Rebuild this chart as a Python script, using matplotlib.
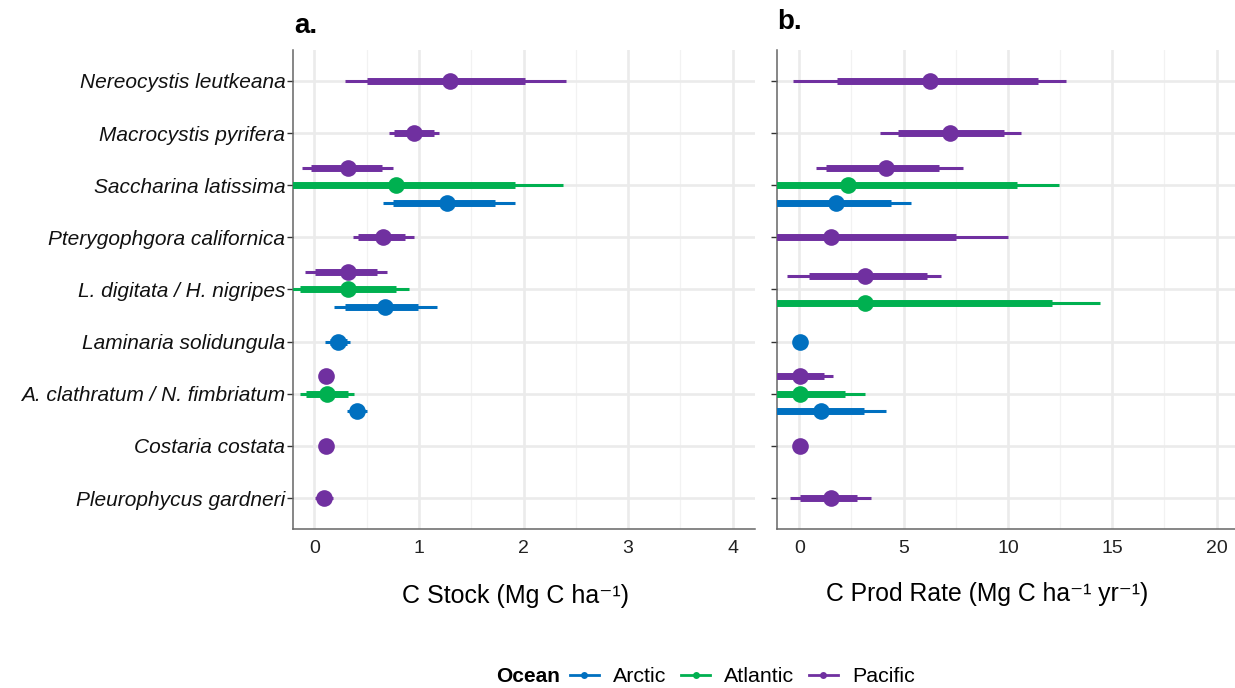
import numpy as np
import matplotlib
matplotlib.use("Agg")
import matplotlib.pyplot as plt
from matplotlib.lines import Line2D

plt.rcParams['font.family'] = ['Liberation Sans', 'DejaVu Sans']

species = ["Nereocystis leutkeana", "Macrocystis pyrifera", "Saccharina latissima",
           "Pterygophgora californica", "L. digitata / H. nigripes", "Laminaria solidungula",
           "A. clathratum / N. fimbriatum", "Costaria costata", "Pleurophycus gardneri"]
oceans = ["Pacific", "Atlantic", "Arctic"]
colors = {"Arctic": "#0070C0", "Atlantic": "#00B050", "Pacific": "#7030A0"}

# panel a: C stock  (species index, ocean, median, 66% low/high, 95% low/high)
stock_sp = [0, 1, 2, 2, 2, 3, 4, 4, 4, 5, 6, 6, 6, 7, 8]
stock_oc = ["Pacific", "Pacific", "Pacific", "Atlantic", "Arctic", "Pacific", "Pacific", "Atlantic",
            "Arctic", "Arctic", "Pacific", "Atlantic", "Arctic", "Pacific", "Pacific"]
stock_med = [1.30, 0.95, 0.32, 0.78, 1.27, 0.66, 0.32, 0.32, 0.67, 0.23, 0.11, 0.12, 0.41, 0.11, 0.09]
stock_lo66 = [0.50, 0.76, -0.03, -0.25, 0.75, 0.42, 0.01, -0.14, 0.29, 0.15, np.nan, -0.08, 0.34, np.nan, 0.03]
stock_hi66 = [2.01, 1.14, 0.65, 1.92, 1.73, 0.87, 0.60, 0.78, 0.99, 0.31, np.nan, 0.32, 0.47, np.nan, 0.16]
stock_lo95 = [0.29, 0.71, -0.12, -0.40, 0.66, 0.37, -0.09, -0.22, 0.19, 0.105, np.nan, -0.14, 0.31, np.nan, 0.01]
stock_hi95 = [2.41, 1.19, 0.75, 2.38, 1.92, 0.95, 0.69, 0.90, 1.17, 0.34, np.nan, 0.38, 0.50, np.nan, 0.18]

# panel b: C production rate
prod_sp = [0, 1, 2, 2, 2, 3, 4, 4, 5, 6, 6, 6, 7, 8]
prod_oc = ["Pacific", "Pacific", "Pacific", "Atlantic", "Arctic", "Pacific", "Pacific", "Atlantic",
           "Arctic", "Pacific", "Atlantic", "Arctic", "Pacific", "Pacific"]
prod_med = [6.28, 7.22, 4.15, 2.33, 1.77, 1.52, 3.13, 3.13, 0.02, 0.02, 0.02, 1.02, 0.05, 1.50]
prod_lo66 = [1.80, 4.72, 1.29, -2.0, -2.0, -2.0, 0.45, -2.0, np.nan, -2.0, -2.0, -2.0, np.nan, 0.05]
prod_hi66 = [11.45, 9.82, 6.70, 10.41, 4.40, 7.50, 6.11, 12.10, np.nan, 1.16, 2.20, 3.10, np.nan, 2.76]
prod_lo95 = [-0.32, 3.88, 0.81, -2.5, -2.5, -2.5, -0.59, -2.5, np.nan, -2.5, -2.5, -2.5, np.nan, -0.46]
prod_hi95 = [12.78, 10.61, 7.86, 12.44, 5.34, 9.98, 6.78, 14.43, np.nan, 1.61, 3.13, 4.16, np.nan, 3.44]

W, H = 1235, 688
fig = plt.figure(figsize=(W / 100, H / 100), dpi=100)


def px_box(l, t, r, b):
    return [l / W, 1 - b / H, (r - l) / W, (b - t) / H]


def draw_panel(ax, sp, oc, med, lo66, hi66, lo95, hi95, xlim, major, minor):
    ax.set_xlim(*xlim)
    ax.set_ylim(len(species) - 0.4, -0.6)
    ax.set_xticks(major)
    ax.set_xticks(minor, minor=True)
    ax.set_yticks(range(len(species)))
    ax.grid(True, which='major', color='#EBEBEB', lw=1.9, zorder=0)
    ax.grid(True, which='minor', axis='x', color='#F2F2F2', lw=0.9, zorder=0)
    ax.set_axisbelow(True)
    for s in ['top', 'right']:
        ax.spines[s].set_visible(False)
    for s in ['left', 'bottom']:
        ax.spines[s].set_color('#666666')
        ax.spines[s].set_linewidth(1.1)
    ax.tick_params(axis='x', which='both', length=0, pad=8, labelsize=14, labelcolor='#222222')
    ax.tick_params(axis='y', length=4.5, width=1.0, color='#333333', pad=1, labelsize=15,
                   labelcolor='#111111')
    for i in range(len(sp)):
        n = sp.count(sp[i])
        members = [j for j in range(len(sp)) if sp[j] == sp[i]]
        k = sorted(members, key=lambda j: oceans.index(oc[j])).index(i)
        y = sp[i] + (k - (n - 1) / 2) * (1.0 / n)
        c = colors[oc[i]]
        if not np.isnan(lo95[i]):
            ax.plot([lo95[i], hi95[i]], [y, y], color=c, lw=2.2, solid_capstyle='butt', zorder=3)
            ax.plot([lo66[i], hi66[i]], [y, y], color=c, lw=5.0, solid_capstyle='butt', zorder=3)
        ax.plot([med[i]], [y], 'o', color=c, ms=12, mew=0, zorder=4)


ax1 = fig.add_axes(px_box(293, 49.7, 755, 529.3))
draw_panel(ax1, stock_sp, stock_oc, stock_med, stock_lo66, stock_hi66, stock_lo95, stock_hi95,
           (-0.205, 4.213), [0, 1, 2, 3, 4], [0.5, 1.5, 2.5, 3.5])
ax1.set_yticklabels(species, fontstyle='italic')

ax2 = fig.add_axes(px_box(777, 49.7, 1235, 529.3))
draw_panel(ax2, prod_sp, prod_oc, prod_med, prod_lo66, prod_hi66, prod_lo95, prod_hi95,
           (-1.07, 20.88), [0, 5, 10, 15, 20], [2.5, 7.5, 12.5, 17.5])
ax2.set_yticklabels([])

fig.text(294 / W, 1 - 26 / H, "a.", fontsize=20, fontweight='bold', va='center', ha='left')
fig.text(777 / W, 1 - 22 / H, "b.", fontsize=20, fontweight='bold', va='center', ha='left')

fig.text(516 / W, 1 - 596 / H, "C Stock (Mg C ha\u207b\u00b9)", fontsize=18, ha='center', va='center')
fig.text(987 / W, 1 - 594 / H, "C Prod Rate (Mg C ha\u207b\u00b9 yr\u207b\u00b9)", fontsize=17.8,
         ha='center', va='center')

# legend
fig.text(496 / W, 1 - 677 / H, "Ocean", fontsize=15, fontweight='bold', ha='left', va='center')
handles = [Line2D([0], [0], color=colors[o], lw=2.0, marker='o', ms=5, mew=0)
           for o in ["Arctic", "Atlantic", "Pacific"]]
fig.legend(handles, ["Arctic", "Atlantic", "Pacific"], loc='center left',
           bbox_to_anchor=(570 / W, 1 - 677 / H), ncol=3, frameon=False, fontsize=15.4,
           handlelength=1.35, handletextpad=0.65, columnspacing=0.7, borderpad=0,
           borderaxespad=0)

fig.savefig("out.png", dpi=100)
